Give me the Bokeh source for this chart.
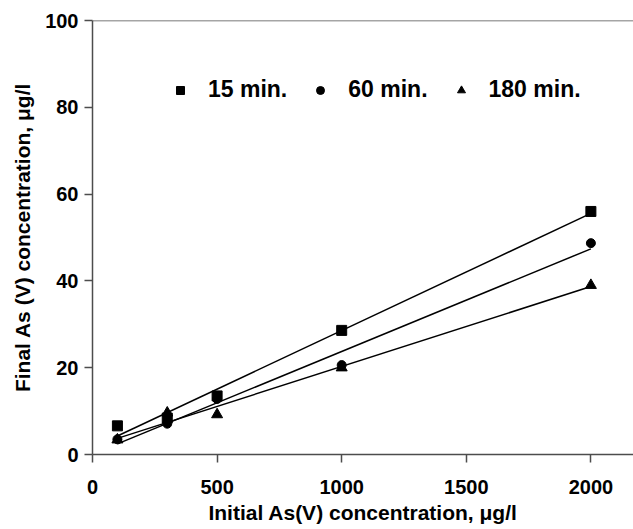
import numpy as np
from bokeh.plotting import figure
from bokeh.models import Range1d, Span, Legend, LegendItem, Title, FixedTicker
from bokeh.embed import file_html
from bokeh.resources import INLINE

# ---- data ----
initial = [100, 300, 500, 1000, 2000]
final_15 = [6.6, 8.4, 13.5, 28.6, 56.0]
final_60 = [3.5, 7.1, 12.8, 20.6, 48.7]
final_180 = [3.4, 9.6, 9.2, 20.0, 39.0]
series_labels = ["15 min.", "60 min.", "180 min."]
series_markers = ["square", "circle", "triangle"]
x_ticks = [0, 500, 1000, 1500, 2000]
y_ticks = [0, 20, 40, 60, 80, 100]

FONT = "Liberation Sans"
AXIS_COLOR = "#4d4d4d"

p = figure(width=633, height=529, output_backend="svg", toolbar_location=None,
           x_range=Range1d(0, 2171), y_range=Range1d(0, 100),
           min_border_left=92, min_border_right=0, min_border_top=20,
           min_border_bottom=75)
p.outline_line_color = None
p.grid.grid_line_color = None
p.background_fill_color = "white"
p.border_fill_color = "white"

for ax in (p.xaxis[0], p.yaxis[0]):
    ax.axis_line_color = AXIS_COLOR
    ax.axis_line_width = 1.5
    ax.major_tick_line_color = AXIS_COLOR
    ax.major_tick_line_width = 1.5
    ax.major_tick_out = 8
    ax.major_tick_in = 0
    ax.minor_tick_line_color = None
    ax.major_label_text_font = FONT
    ax.major_label_text_font_style = "bold"
    ax.major_label_text_font_size = "20px"
    ax.major_label_text_color = "black"
    ax.axis_label_text_font = FONT
    ax.axis_label_text_font_style = "bold"
    ax.axis_label_text_font_size = "21px"
    ax.axis_label_text_color = "black"

p.xaxis.ticker = FixedTicker(ticks=x_ticks)
p.yaxis.ticker = FixedTicker(ticks=y_ticks)
p.xaxis.axis_label = "Initial As(V) concentration, μg/l"
p.xaxis.major_label_standoff = 17
p.xaxis.axis_label_standoff = 4
p.yaxis.major_label_standoff = 6

# top border line of the frame
p.add_layout(Span(location=100, dimension="width", line_color=AXIS_COLOR, line_width=1.5))

# y axis label, placed off-centre like the reference
p.add_layout(Title(text="Final As (V) concentration, μg/l", align="center", offset=28,
                   text_font=FONT, text_font_style="bold", text_font_size="21px",
                   text_color="black", standoff=17), "left")

items = []
for vals, lab, mk, sz in zip([final_15, final_60, final_180], series_labels,
                             series_markers, [10, 9, 11]):
    fit = np.polyfit(initial, vals, 1)
    xs = [min(initial), max(initial)]
    ys = list(np.polyval(fit, xs))
    p.line(xs, ys, line_color="black", line_width=1.5)
    r = p.scatter(initial, vals, marker=mk, size=sz, fill_color="black", line_color="black")
    items.append(LegendItem(label=lab, renderers=[r]))

legend = Legend(items=items, orientation="horizontal", location=(78, 351),
                glyph_width=20, glyph_height=20, label_standoff=18, spacing=23,
                padding=0, margin=0, border_line_color=None, background_fill_alpha=0,
                label_text_font=FONT, label_text_font_style="bold",
                label_text_font_size="23px", label_text_color="black")
p.add_layout(legend, "center")

open("out.html", "w").write(file_html(p, INLINE))
